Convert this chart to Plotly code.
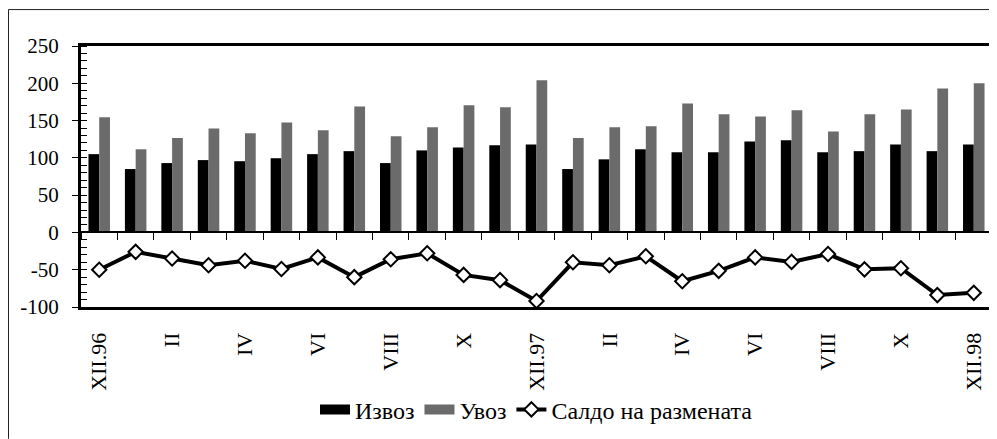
import plotly.graph_objects as go

months = ["XII.96", "I", "II", "III", "IV", "V", "VI", "VII", "VIII", "IX", "X", "XI",
          "XII.97", "I", "II", "III", "IV", "V", "VI", "VII", "VIII", "IX", "X", "XI", "XII.98"]
export_vals = [105, 85, 93, 97, 95.5, 99.5, 105, 109, 93, 110, 114, 117,
               118, 85, 98, 111.5, 107.5, 107.5, 122, 123.5, 107.5, 109, 118, 109, 118]
import_vals = [154.5, 111.5, 126.5, 139.5, 133, 147.5, 137, 169, 129, 141, 170.5, 168,
               204, 126.5, 141, 142.5, 173, 158.5, 155.5, 164, 135.5, 158.5, 165, 193, 200]
balance_vals = [-50, -26, -35, -44, -38, -49, -33.5, -60, -36, -28, -57, -64,
                -92, -40, -44, -32, -65.5, -51.5, -33.5, -39.5, -29, -49.5, -48, -84, -81]
y_ticks = [-100, -50, 0, 50, 100, 150, 200, 250]
y_tick_labels = ["-100", "-50", "0", "50", "100", "150", "200", "250"]

names = ["Извоз", "Увоз", "Салдо на размената"]
colors = ["#000000", "#6b6b6b"]
x = list(range(len(months)))

FONT = "Liberation Serif"

fig = go.Figure()
fig.add_trace(go.Bar(x=x, y=export_vals, name=names[0], legendgroup="exp", showlegend=False,
                     marker=dict(color=colors[0], line=dict(width=0))))
fig.add_trace(go.Bar(x=x, y=import_vals, name=names[1], legendgroup="imp", showlegend=False,
                     marker=dict(color=colors[1], line=dict(width=0))))
# legend swatches (wide rectangles) for the two bar series
fig.add_trace(go.Scatter(x=[None], y=[None], name=names[0], legendgroup="exp", mode="lines",
                         line=dict(color=colors[0], width=12), hoverinfo="skip"))
fig.add_trace(go.Scatter(x=[None], y=[None], name=names[1], legendgroup="imp", mode="lines",
                         line=dict(color=colors[1], width=12), hoverinfo="skip"))
fig.add_trace(go.Scatter(x=x, y=balance_vals, name=names[2], mode="lines+markers",
                         line=dict(color="#000000", width=4),
                         marker=dict(symbol="diamond", size=11, color="white",
                                     line=dict(color="#000000", width=2))))

# figure / plot-area geometry in pixels
W, H = 989, 431
L, R, T, B = 73, 5, 37.5, 132
pw, ph = W - L - R, H - T - B

fig.update_layout(
    width=W, height=H,
    margin=dict(l=L, r=R, t=T, b=B, pad=0, autoexpand=False),
    paper_bgcolor="white",
    plot_bgcolor="rgba(0,0,0,0)",
    barmode="group", bargap=0.41, bargroupgap=0,
    font=dict(family=FONT, size=20, color="#000000"),
    showlegend=True,
    legend=dict(orientation="h", x=0.5, xanchor="center", y=-(402 - (T + ph)) / ph,
                yanchor="middle",
                font=dict(family=FONT, size=24), bgcolor="rgba(0,0,0,0)",
                tracegroupgap=0),
    xaxis=dict(range=[-0.5, len(months) - 0.5], tickmode="array",
               tickvals=x[::2], ticktext=months[::2], tickangle=-90,
               ticks="", ticklabelstandoff=14,
               showline=True, linecolor="#000000", linewidth=3, mirror=True,
               showgrid=False, zeroline=False, automargin=False,
               tickfont=dict(family=FONT, size=22)),
    xaxis2=dict(matches="x", overlaying="x", anchor="free",
                position=100 / 350, side="bottom",
                tickmode="linear", tick0=-0.5, dtick=1,
                ticks="outside", ticklen=7, tickwidth=1.2, tickcolor="#000000",
                showticklabels=False, showline=True, linecolor="#000000", linewidth=1.5,
                showgrid=False, zeroline=False, automargin=False),
    yaxis=dict(range=[-100, 250], tickmode="array", tickvals=y_ticks, ticktext=y_tick_labels,
               ticks="outside", ticklen=6, tickwidth=1.2, tickcolor="#000000",
               ticklabelstandoff=9,
               minor=dict(tickmode="linear", tick0=0, dtick=10, ticks="inside", ticklen=6,
                          tickwidth=1, tickcolor="#000000"),
               showline=True, linecolor="#000000", linewidth=3, mirror=True,
               showgrid=False, zeroline=False, automargin=False,
               tickfont=dict(family=FONT, size=21)),
    shapes=[dict(type="line", xref="paper", yref="paper",
                 x0=(0.5 - L) / pw, x1=(0.5 - L) / pw, y0=-(H - T - ph) / ph, y1=(T - 1) / ph + 1,
                 line=dict(color="#222222", width=1)),
            dict(type="line", xref="paper", yref="paper",
                 x0=(0.5 - L) / pw, x1=(W - L) / pw, y0=(T - 1) / ph + 1, y1=(T - 1) / ph + 1,
                 line=dict(color="#222222", width=1))],
)

# invisible trace to activate xaxis2
fig.add_trace(go.Scatter(x=[0], y=[None], xaxis="x2", showlegend=False, hoverinfo="skip"))

fig.write_html("out.html")
